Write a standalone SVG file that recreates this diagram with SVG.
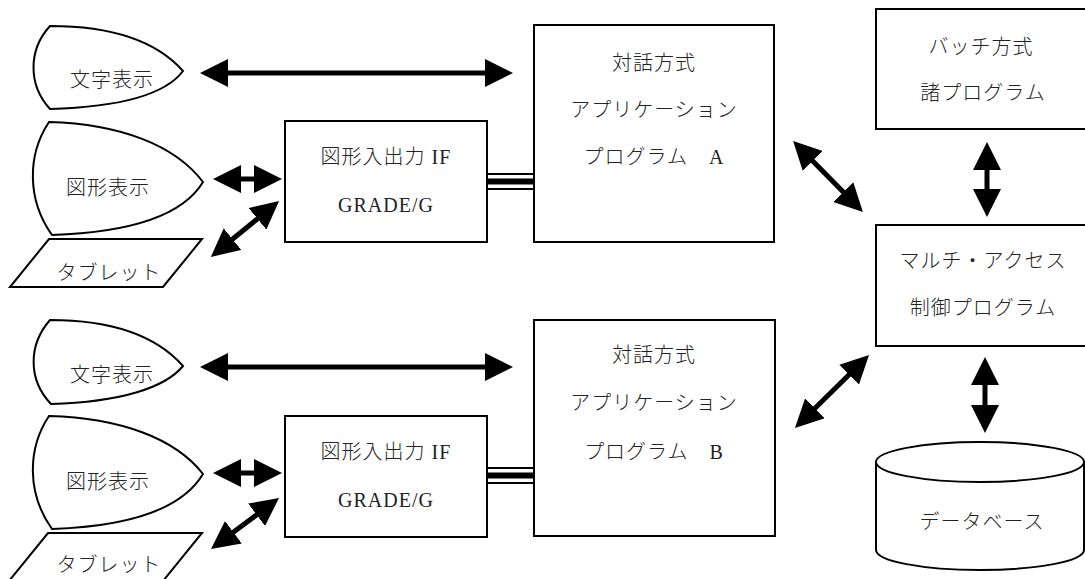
<svg xmlns="http://www.w3.org/2000/svg" width="1085" height="579" viewBox="0 0 1085 579">
<style>
.shp{fill:#fff;stroke:#000;stroke-width:2}
.t{font-family:"Liberation Serif","Noto Sans CJK JP",serif;font-size:20px;font-weight:300;fill:#222;text-anchor:middle;letter-spacing:1px}
.c{stroke:#000;stroke-width:5;fill:none;marker-start:url(#ah);marker-end:url(#ah)}
.tl{stroke:#000;fill:none}
</style>
<defs>
<marker id="ah" markerUnits="userSpaceOnUse" markerWidth="28" markerHeight="28" viewBox="0 0 28 28" refX="1" refY="14" orient="auto-start-reverse">
<path d="M0,0 L28,14 L0,28 z" fill="#000"/>
</marker>
</defs>
<rect width="1085" height="579" fill="#fff"/>

<g id="moji-a">
<path class="shp" d="M50,26 C120,26 160,45 183,71 C165,95 120,107 50,109 C28,85 28,50 50,26 Z"/>
<text class="t" x="112" y="87">文字表示</text>
</g>
<g id="zukei-a">
<path class="shp" d="M49,122 C120,124 175,145 203,182 C185,212 140,232 52,235 C27,200 27,155 49,122 Z"/>
<text class="t" x="108" y="195">図形表示</text>
</g>
<g id="tablet-a">
<polygon class="shp" points="49,239 202,239 163,287 10,287"/>
<text class="t" x="109" y="280">タブレット</text>
</g>
<g id="if-a">
<rect class="shp" x="285" y="121" width="202" height="121"/>
<text class="t" x="386" y="164">図形入出力 IF</text>
<text class="t" x="386" y="212">GRADE/G</text>
</g>
<g id="app-a">
<rect class="shp" x="534" y="25" width="240" height="217"/>
<text class="t" x="654" y="70">対話方式</text>
<text class="t" x="654" y="117">アプリケーション</text>
<text class="t" x="654" y="164">プログラム　A</text>
</g>

<g id="moji-b">
<path class="shp" d="M50,320 C120,320 160,340 183,366 C165,388 120,402 51,404 C28,380 28,345 50,320 Z"/>
<text class="t" x="112" y="382">文字表示</text>
</g>
<g id="zukei-b">
<path class="shp" d="M49,416 C120,418 175,438 203,474 C185,504 140,526 52,529 C27,494 27,449 49,416 Z"/>
<text class="t" x="108" y="489">図形表示</text>
</g>
<g id="tablet-b">
<polygon class="shp" points="48,533 202,533 163,581 9,581"/>
<text class="t" x="109" y="572">タブレット</text>
</g>
<g id="if-b">
<rect class="shp" x="285" y="416" width="202" height="121"/>
<text class="t" x="386" y="459">図形入出力 IF</text>
<text class="t" x="386" y="507">GRADE/G</text>
</g>
<g id="app-b">
<rect class="shp" x="534" y="320" width="241" height="216"/>
<text class="t" x="654" y="362">対話方式</text>
<text class="t" x="654" y="410">アプリケーション</text>
<text class="t" x="654" y="459">プログラム　B</text>
</g>

<g id="batch">
<rect class="shp" x="876" y="9" width="215" height="120"/>
<text class="t" x="981" y="54">バッチ方式</text>
<text class="t" x="983" y="100">諸プログラム</text>
</g>
<g id="multi">
<rect class="shp" x="876" y="225" width="215" height="121"/>
<text class="t" x="983" y="268">マルチ・アクセス</text>
<text class="t" x="983" y="315">制御プログラム</text>
</g>
<g id="db">
<path class="shp" d="M876,462 L876,550 A104,20 0 0 0 1084,550 L1084,462"/>
<ellipse class="shp" cx="980" cy="462" rx="104" ry="20"/>
<text class="t" x="982" y="529">データベース</text>
</g>

<g id="connectors">
<line class="c" x1="227" y1="73" x2="486" y2="73"/>
<line class="c" x1="240" y1="179" x2="255" y2="179"/>
<line class="c" x1="231.8" y1="239.8" x2="258.2" y2="218.2"/>
<line class="c" x1="812" y1="160.2" x2="844" y2="192.8"/>
<line class="c" x1="987" y1="169" x2="987" y2="190"/>
<line class="c" x1="227" y1="367" x2="486" y2="367"/>
<line class="c" x1="240" y1="473" x2="255" y2="473"/>
<line class="c" x1="232.6" y1="532.8" x2="257.4" y2="514.2"/>
<line class="c" x1="814.2" y1="409" x2="849.8" y2="374"/>
<line class="c" x1="985" y1="384" x2="985" y2="406"/>
<line class="tl" stroke-width="2" x1="487" y1="174" x2="534" y2="174"/>
<line class="tl" stroke-width="6" x1="487" y1="181.5" x2="534" y2="181.5"/>
<line class="tl" stroke-width="2" x1="487" y1="189" x2="534" y2="189"/>
<line class="tl" stroke-width="2" x1="487" y1="468" x2="534" y2="468"/>
<line class="tl" stroke-width="6" x1="487" y1="475.5" x2="534" y2="475.5"/>
<line class="tl" stroke-width="2" x1="487" y1="483" x2="534" y2="483"/>
</g>
</svg>
